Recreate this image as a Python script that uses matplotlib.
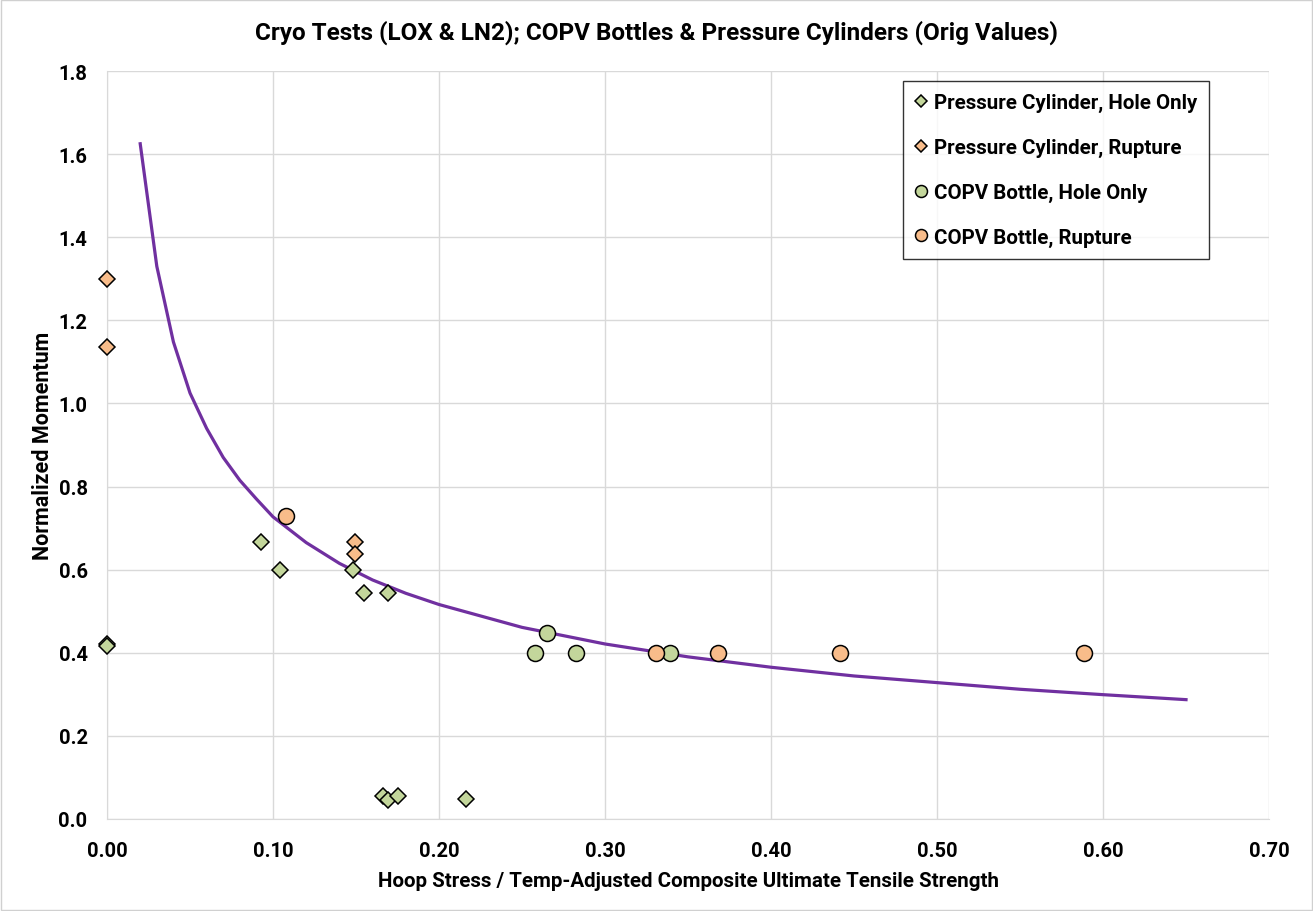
import matplotlib
matplotlib.use("Agg")
import matplotlib.pyplot as plt
from matplotlib.patches import Rectangle

# pressure cylinders
cyl_hole_x = [0.0, 0.0, 0.093, 0.104, 0.148, 0.155, 0.169, 0.1665, 0.1695, 0.1755, 0.216]
cyl_hole_y = [0.42, 0.415, 0.667, 0.60, 0.60, 0.543, 0.543, 0.056, 0.046, 0.056, 0.048]
cyl_rup_x = [0.0, 0.0, 0.1495, 0.1495]
cyl_rup_y = [1.30, 1.135, 0.667, 0.638]

# COPV bottles
copv_hole_x = [0.2576, 0.265, 0.2827, 0.3392]
copv_hole_y = [0.40, 0.448, 0.40, 0.40]
copv_rup_x = [0.1076, 0.331, 0.368, 0.4416, 0.5886]
copv_rup_y = [0.73, 0.40, 0.40, 0.40, 0.40]

# curve
curve_x = [0.02, 0.03, 0.04, 0.05, 0.06, 0.07, 0.08, 0.09, 0.10, 0.12, 0.14,
           0.16, 0.18, 0.20, 0.25, 0.30, 0.35, 0.40, 0.45, 0.50, 0.55, 0.60, 0.65]
curve_y = [1.625, 1.33, 1.148, 1.025, 0.94, 0.87, 0.815, 0.77, 0.727, 0.665, 0.615,
           0.575, 0.543, 0.516, 0.461, 0.421, 0.39, 0.365, 0.344, 0.328, 0.312, 0.299, 0.287]

GREEN = "#C3D69B"
ORANGE = "#F8BC8A"
PURPLE = "#7030A0"

plt.rcParams['font.family'] = ['Roboto', 'DejaVu Sans']
plt.rcParams['font.weight'] = 'bold'

fig = plt.figure(figsize=(13.13, 9.12), dpi=100)
ax = fig.add_axes([0.0815, 0.101, 0.885, 0.820])
fig.patches.append(Rectangle((0.001, 0.001), 0.998, 0.998, transform=fig.transFigure,
                             fill=False, edgecolor="#D0D0D0", linewidth=1))

ax.plot(curve_x, curve_y, color=PURPLE, linewidth=2.3, zorder=2)
mk = dict(mec="black", mew=1.1, linestyle='none', zorder=3, clip_on=False)
ax.plot(cyl_hole_x, cyl_hole_y, 'D', ms=8, mfc=GREEN,
        label="Pressure Cylinder, Hole Only", **mk)
ax.plot(cyl_rup_x, cyl_rup_y, 'D', ms=8, mfc=ORANGE,
        label="Pressure Cylinder, Rupture", **mk)
ax.plot(copv_hole_x, copv_hole_y, 'o', ms=11.5, mfc=GREEN,
        label="COPV Bottle, Hole Only", **mk)
ax.plot(copv_rup_x, copv_rup_y, 'o', ms=11.5, mfc=ORANGE,
        label="COPV Bottle, Rupture", **mk)

ax.set_xlim(0, 0.70)
ax.set_ylim(0, 1.8)
ax.set_xticks([i / 10 for i in range(8)])
ax.set_yticks([i / 5 for i in range(10)])
ax.xaxis.set_major_formatter(plt.FormatStrFormatter('%.2f'))
ax.yaxis.set_major_formatter(plt.FormatStrFormatter('%.1f'))
ax.tick_params(length=0, labelsize=14.5)
ax.tick_params(axis='x', pad=16)
ax.tick_params(axis='y', pad=14)
ax.grid(True, color="#D9D9D9", linewidth=1)
ax.set_axisbelow(True)
for s in ['top', 'right']:
    ax.spines[s].set_visible(False)
for s in ['left', 'bottom']:
    ax.spines[s].set_color("#D9D9D9")

ax.set_xlabel("Hoop Stress / Temp-Adjusted Composite Ultimate Tensile Strength",
              fontsize=14.8, fontweight='bold', labelpad=8)
ax.set_ylabel("Normalized Momentum", fontsize=15.5, fontweight='bold', labelpad=3)
fig.suptitle("Cryo Tests (LOX & LN2); COPV Bottles & Pressure Cylinders (Orig Values)",
             fontsize=17.5, fontweight='bold', y=0.977)

leg = ax.legend(loc='upper right', bbox_to_anchor=(0.9485, 0.987), fontsize=14.8,
                frameon=True, fancybox=False, edgecolor="black", markerscale=0.75,
                handlelength=0.6, handletextpad=0.3, labelspacing=1.25,
                borderpad=0.6, borderaxespad=0)
leg.get_frame().set_linewidth(1)

fig.savefig("out.png", dpi=100)
